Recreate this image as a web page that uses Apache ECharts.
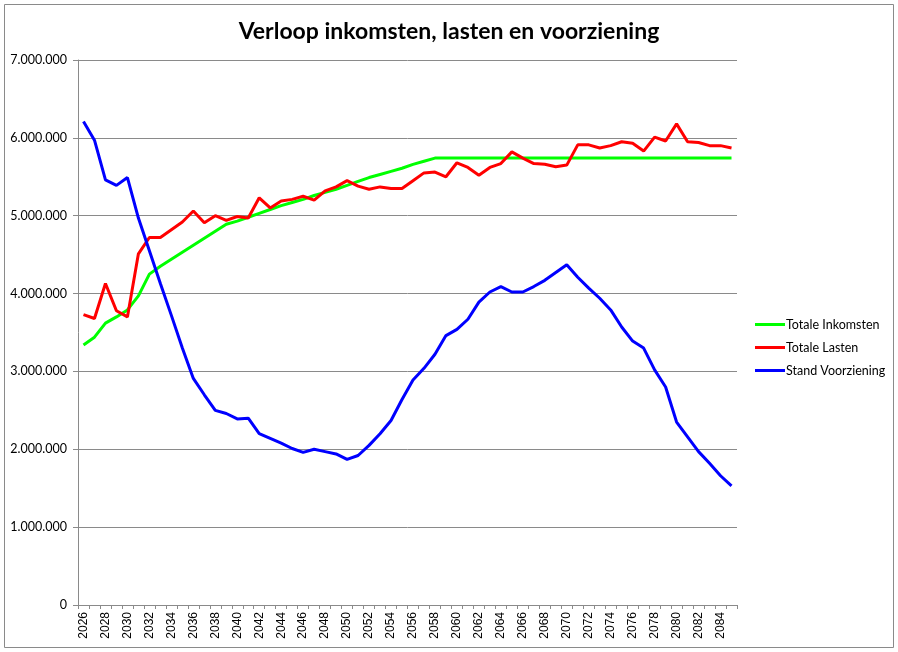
<!DOCTYPE html>
<html>
<head>
	<meta charset="utf-8">
	<title>Verloop inkomsten, lasten en voorziening</title>
	<script src="https://cdn.jsdelivr.net/npm/echarts@6/dist/echarts.min.js"></script>
	<style>
		html, body { margin: 0; padding: 0; background: #fff; }
		#main { width: 898px; height: 652px; }
	</style>
</head>
<body>
	<div id="main"></div>
	<script type="text/javascript">
		// jaren op de x-as
		var jaren = ['2026', '2027', '2028', '2029', '2030', '2031', '2032', '2033', '2034', '2035',
			'2036', '2037', '2038', '2039', '2040', '2041', '2042', '2043', '2044', '2045',
			'2046', '2047', '2048', '2049', '2050', '2051', '2052', '2053', '2054', '2055',
			'2056', '2057', '2058', '2059', '2060', '2061', '2062', '2063', '2064', '2065',
			'2066', '2067', '2068', '2069', '2070', '2071', '2072', '2073', '2074', '2075',
			'2076', '2077', '2078', '2079', '2080', '2081', '2082', '2083', '2084', '2085'];

		var totaleInkomsten = [3340000, 3440000, 3620000, 3700000, 3790000, 3970000, 4250000, 4350000, 4440000, 4530000,
			4620000, 4710000, 4800000, 4890000, 4930000, 4980000, 5030000, 5080000, 5130000, 5170000,
			5210000, 5260000, 5300000, 5340000, 5390000, 5440000, 5490000, 5530000, 5570000, 5610000,
			5660000, 5700000, 5740000, 5740000, 5740000, 5740000, 5740000, 5740000, 5740000, 5740000,
			5740000, 5740000, 5740000, 5740000, 5740000, 5740000, 5740000, 5740000, 5740000, 5740000,
			5740000, 5740000, 5740000, 5740000, 5740000, 5740000, 5740000, 5740000, 5740000, 5740000];

		var totaleLasten = [3730000, 3680000, 4130000, 3780000, 3700000, 4510000, 4720000, 4720000, 4820000, 4920000,
			5060000, 4910000, 5000000, 4940000, 4990000, 4970000, 5230000, 5100000, 5190000, 5210000,
			5250000, 5200000, 5320000, 5370000, 5450000, 5380000, 5340000, 5370000, 5350000, 5350000,
			5450000, 5550000, 5560000, 5500000, 5680000, 5620000, 5520000, 5620000, 5670000, 5820000,
			5740000, 5670000, 5660000, 5630000, 5650000, 5910000, 5910000, 5870000, 5900000, 5950000,
			5930000, 5830000, 6010000, 5960000, 6180000, 5950000, 5940000, 5900000, 5900000, 5870000];

		var standVoorziening = [6210000, 5970000, 5460000, 5390000, 5490000, 4970000, 4550000, 4130000, 3720000, 3300000,
			2910000, 2700000, 2500000, 2460000, 2390000, 2400000, 2200000, 2140000, 2080000, 2010000,
			1960000, 2000000, 1970000, 1940000, 1870000, 1920000, 2050000, 2200000, 2370000, 2640000,
			2890000, 3040000, 3220000, 3460000, 3540000, 3670000, 3890000, 4020000, 4090000, 4020000,
			4020000, 4090000, 4170000, 4270000, 4370000, 4210000, 4070000, 3940000, 3790000, 3570000,
			3390000, 3300000, 3020000, 2800000, 2350000, 2160000, 1970000, 1820000, 1660000, 1530000];

		var chart = echarts.init(document.getElementById('main'));

		// 1234567 -> "1.234.567"
		function puntNotatie(v) {
			return String(v).replace(/\B(?=(\d{3})+(?!\d))/g, '.');
		}

		function lijn(naam, data, kleur) {
			return {
				name: naam,
				type: 'line',
				data: data,
				symbol: 'none',
				showSymbol: false,
				animation: false,
				lineStyle: { color: kleur, width: 3 },
				itemStyle: { color: kleur }
			};
		}

		var option = {
			backgroundColor: '#fff',
			animation: false,
			title: {
				text: 'Verloop inkomsten, lasten en voorziening',
				left: 'center',
				top: 15,
				textStyle: {
					color: '#000',
					fontSize: 23,
					fontWeight: 'bold',
					fontFamily: 'Lato'
				}
			},
			graphic: [{
				type: 'rect',
				shape: { x: 4.5, y: 4.5, width: 889, height: 643 },
				style: { fill: 'none', stroke: '#8a8a8a', lineWidth: 1 }
			}],
			legend: {
				orient: 'vertical',
				left: 750,
				top: 313,
				itemWidth: 30,
				itemHeight: 14,
				itemGap: 10,
				icon: 'path://M0,6 L30,6 L30,9 L0,9 Z',
				textStyle: { color: '#000', fontSize: 12.5, fontFamily: 'Lato', padding: [0, 0, 0, -4] },
				data: ['Totale Inkomsten', 'Totale Lasten', 'Stand Voorziening']
			},
			grid: {
				left: 78,
				right: 161,
				top: 60,
				bottom: 47,
				containLabel: false
			},
			xAxis: {
				type: 'category',
				data: jaren,
				boundaryGap: true,
				axisLine: { lineStyle: { color: '#8a8a8a', width: 1 } },
				axisTick: { show: true, interval: 0, length: 4, lineStyle: { color: '#8a8a8a' } },
				axisLabel: {
					interval: 1,
					rotate: 90,
					color: '#000',
					fontSize: 12,
					fontFamily: 'Liberation Sans',
					margin: 7
				},
				splitLine: { show: false }
			},
			yAxis: {
				type: 'value',
				min: 0,
				max: 7000000,
				interval: 1000000,
				axisLine: { show: true, lineStyle: { color: '#8a8a8a', width: 1 } },
				axisTick: { show: true, length: 5, lineStyle: { color: '#8a8a8a' } },
				axisLabel: {
					color: '#000',
					fontSize: 12.5,
					fontFamily: 'Lato',
					margin: 11,
					formatter: puntNotatie
				},
				splitLine: { lineStyle: { color: '#8a8a8a', width: 1 } }
			},
			series: [
				lijn('Totale Inkomsten', totaleInkomsten, '#00ff00'),
				lijn('Totale Lasten', totaleLasten, '#ff0000'),
				lijn('Stand Voorziening', standVoorziening, '#0000ff')
			]
		};

		chart.setOption(option);
	</script>
</body>
</html>
